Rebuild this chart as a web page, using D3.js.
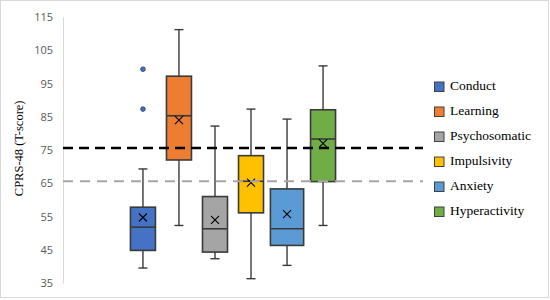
<!DOCTYPE html>
<html><head><meta charset="utf-8">
<script src="https://cdn.jsdelivr.net/npm/d3@7"></script>
<style>html,body{margin:0;padding:0;background:#fff}</style>
</head><body>
<svg id="chart" width="550" height="300"></svg>
<script>
const categories = ["Conduct","Learning","Psychosomatic","Impulsivity","Anxiety","Hyperactivity"];
const whiskerLow = [39.5, 52.3, 42.3, 36.3, 40.3, 52.3];
const q1 = [44.8, 72.0, 44.3, 56.1, 46.3, 65.5];
const median = [51.8, 85.3, 51.3, 65.6, 51.3, 78.3];
const q3 = [57.8, 97.2, 61.0, 73.3, 63.3, 87.1];
const whiskerHigh = [69.3, 111.2, 82.2, 87.3, 84.3, 100.3];
const means = [54.7, 84.0, 54.0, 65.2, 55.7, 77.0];
const outliers = [[99.3, 87.3], [], [], [], [], []];
const cutoffs = [75.6, 65.6];
const yTicks = [35, 45, 55, 65, 75, 85, 95, 105, 115];
const colors = ["#4472C4","#ED7D31","#A5A5A5","#FFC000","#5B9BD5","#70AD47"];

const svg = d3.select("#chart");
svg.append("rect").attr("x",0.5).attr("y",0.5).attr("width",548).attr("height",297)
  .attr("fill","#fff").attr("stroke","#d9d9d9").attr("stroke-width",1);

const y = d3.scaleLinear().domain([35,115]).range([283,17]);
const x = d3.scaleBand().domain(categories).range([128,338]).paddingInner(0.17).paddingOuter(0);
const bw = 25;
const widthFactor = {"Anxiety":1.33};

// y axis
const yAxis = d3.axisLeft(y).tickValues(yTicks).tickSize(0).tickPadding(10);
const ga = svg.append("g").attr("transform","translate(63,0)").call(yAxis);
ga.select(".domain").attr("stroke","#d9d9d9").attr("stroke-width",1);
ga.selectAll("text").attr("fill","#595959").style("font-family","'Open Sans', 'Liberation Sans', sans-serif").style("font-size","11px");

svg.append("text").attr("transform","translate(20,"+y(75.5)+") rotate(-90)")
  .attr("text-anchor","middle").attr("dominant-baseline","middle")
  .style("font-family","'Liberation Serif', serif").style("font-size","12.5px").attr("fill","#000")
  .text("CPRS-48 (T-score)");

// boxes
const boxes = svg.append("g");
categories.forEach((c,i) => {
  const cx = x(c) + x.bandwidth()/2;
  const w = bw * (widthFactor[c] || 1);
  const g = boxes.append("g");
  const st = "#3a3a3a";
  g.append("line").attr("x1",cx).attr("x2",cx).attr("y1",y(whiskerHigh[i])).attr("y2",y(q3[i])).attr("stroke",st).attr("stroke-width",1.4);
  g.append("line").attr("x1",cx).attr("x2",cx).attr("y1",y(q1[i])).attr("y2",y(whiskerLow[i])).attr("stroke",st).attr("stroke-width",1.4);
  g.append("line").attr("x1",cx-4.5).attr("x2",cx+4.5).attr("y1",y(whiskerHigh[i])).attr("y2",y(whiskerHigh[i])).attr("stroke",st).attr("stroke-width",1.4);
  g.append("line").attr("x1",cx-4.5).attr("x2",cx+4.5).attr("y1",y(whiskerLow[i])).attr("y2",y(whiskerLow[i])).attr("stroke",st).attr("stroke-width",1.4);
  g.append("rect").attr("x",cx-w/2).attr("y",y(q3[i])).attr("width",w).attr("height",y(q1[i])-y(q3[i]))
    .attr("fill",colors[i]).attr("stroke",st).attr("stroke-width",1.6);
  g.append("line").attr("x1",cx-w/2).attr("x2",cx+w/2).attr("y1",y(median[i])).attr("y2",y(median[i])).attr("stroke",st).attr("stroke-width",1.6);
  const my = y(means[i]), s = 4;
  g.append("path").attr("d",`M${cx-s},${my-s}L${cx+s},${my+s}M${cx-s},${my+s}L${cx+s},${my-s}`).attr("stroke","#000").attr("stroke-width",1.1);
  outliers[i].forEach(v => {
    g.append("circle").attr("cx",cx).attr("cy",y(v)).attr("r",2.3).attr("fill",colors[i]).attr("stroke","#203864").attr("stroke-width",0.8);
  });
});

// cutoff lines (drawn on top)
svg.append("line").attr("x1",63).attr("x2",423).attr("y1",y(cutoffs[0])).attr("y2",y(cutoffs[0]))
  .attr("stroke","#000").attr("stroke-width",2.5).attr("stroke-dasharray","10,6");
svg.append("line").attr("x1",63).attr("x2",423).attr("y1",y(cutoffs[1])).attr("y2",y(cutoffs[1]))
  .attr("stroke","#a6a6a6").attr("stroke-width",2).attr("stroke-dasharray","10,7");

// legend
const lg = svg.append("g").attr("transform","translate(434,87)");
categories.forEach((c,i) => {
  const r = lg.append("g").attr("transform",`translate(0,${i*25})`);
  r.append("rect").attr("x",0.5).attr("y",-5).attr("width",9.5).attr("height",9.5).attr("fill",colors[i]).attr("stroke","#404040").attr("stroke-width",1);
  r.append("text").attr("x",16).attr("y",0).attr("dominant-baseline","middle")
    .style("font-family","'Liberation Serif', serif").style("font-size","13.5px").attr("fill","#000").text(c);
});
</script>
</body></html>
